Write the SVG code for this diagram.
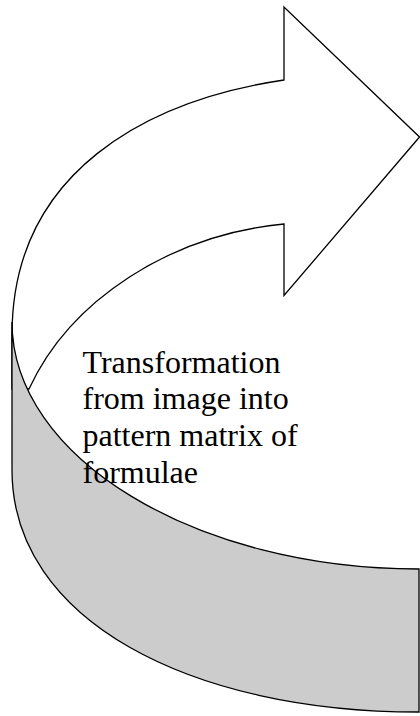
<svg xmlns="http://www.w3.org/2000/svg" width="420" height="716" viewBox="0 0 420 716">
<style>
.shape{stroke:#000;stroke-width:1.3;stroke-linejoin:miter}
.label{font-family:"Liberation Serif","Times New Roman",serif;font-size:32px;fill:#000}
</style>
<rect width="420" height="716" fill="#fff"/>
<g id="arrow-top">
<path class="shape" fill="#fff" d="M12,335 C12,170 150,100 284,80 L284,7 L419.5,137 L284,295.5 L284,224 C170,235 70,300 29,389 L12,389 Z"/>
</g>
<g id="arrow-band">
<path class="shape" fill="#cccccc" d="M12,322 L12,470 C12,620 190,712 419,712 L419,569 C194,569 12,457 12,322 Z"/>
</g>
<g id="label">
<text class="label" x="82.5" y="372.5">Transformation</text>
<text class="label" x="82.5" y="409">from image into</text>
<text class="label" x="82.5" y="445.5">pattern matrix of</text>
<text class="label" x="82.5" y="482.5">formulae</text>
</g>
</svg>
